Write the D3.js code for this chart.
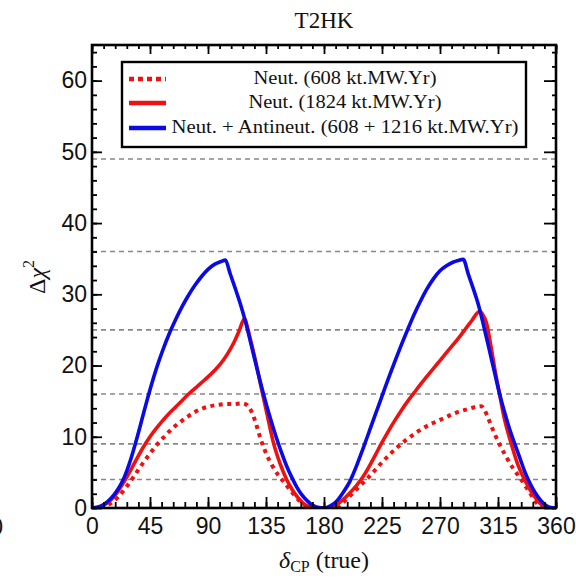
<!DOCTYPE html>
<html>
<head>
<meta charset="utf-8">
<script src="https://d3js.org/d3.v7.min.js"></script>
<style>
  body { margin: 0; background: #fff; }
  svg { display: block; }
</style>
</head>
<body>
<svg width="576" height="578"></svg>
<script>
// delta_CP (true) vs Delta chi^2
const neut608 = [
  [0, 0], [8, 0.1], [14, 0.6], [20, 1.5], [26, 2.8], [32, 4.3], [38, 5.9], [44, 7.4],
  [50, 8.8], [56, 10], [62, 11.1], [68, 12], [74, 12.8], [80, 13.5], [86, 14], [92, 14.3],
  [98, 14.5], [104, 14.6], [110, 14.6], [116, 14.7], [119, 14.6], [122, 14.1], [125, 13],
  [128, 11.4], [131, 9.6], [135, 7.7], [140, 5.9], [145, 4.5], [149, 3.6], [153, 2.7],
  [157, 1.8], [161, 1], [165, 0.4], [169, 0.1], [173, 0], [180, 0],
  [188, 0], [193, 0.5], [198, 1.3], [204, 2.4], [209, 3.3], [214, 4.2], [220, 5.4], [226, 6.6],
  [232, 7.7], [238, 8.7], [244, 9.6], [250, 10.4], [256, 11.1], [262, 11.7], [268, 12.2],
  [274, 12.7], [280, 13.2], [286, 13.6], [292, 13.9], [298, 14.2], [302, 14.3], [304, 13.9],
  [307, 12.8], [311, 11], [316, 9], [321, 7.3], [327, 5.5], [333, 4], [338, 2.6], [342, 1.5],
  [345, 0.7], [348, 0.2], [352, 0], [360, 0]
];
const neut1824 = [
  [0, 0], [5, 0.1], [10, 0.5], [15, 1.2], [20, 2.3], [25, 3.7], [30, 5.3], [35, 7], [40, 8.6],
  [45, 10], [50, 11.2], [55, 12.3], [60, 13.3], [65, 14.2], [70, 15.1], [75, 16], [80, 16.8],
  [85, 17.6], [90, 18.4], [95, 19.3], [100, 20.3], [105, 21.6], [110, 23.2], [114, 24.8],
  [118.4, 26.6], [120, 25.8], [123, 23.6], [126.7, 20.8], [130, 18], [132.4, 16], [136, 13],
  [141, 9], [146, 6.2], [151, 4], [156, 2.4], [161, 1.2], [165, 0.5], [170, 0.1], [175, 0],
  [180, 0],
  [185, 0.05], [190, 0.5], [195, 1.2], [200, 2.1], [205, 3.1], [210, 4.3], [215, 5.8], [220, 7.5],
  [225, 9.2], [230, 10.8], [235, 12.3], [240, 13.7], [245, 15], [250, 16.2], [255, 17.4],
  [260, 18.5], [265, 19.6], [270, 20.7], [275, 21.8], [280, 22.9], [285, 24], [290, 25.2],
  [295, 26.4], [299, 27.4], [301, 27.6], [303, 27.2], [306, 26], [310, 22.2], [313, 19],
  [316.2, 16], [320, 12.5], [325, 9.2], [330, 6.3], [335, 4.2], [340, 2.5], [345, 1.2],
  [349, 0.4], [353, 0], [360, 0]
];
const neutAnti = [
  [0, 0], [5, 0.15], [10, 0.6], [15, 1.4], [20, 2.6], [25, 4.3], [30, 6.8], [35, 9.9], [40, 13.3],
  [45, 16.6], [50, 19.6], [55, 22.2], [60, 24.5], [65, 26.5], [70, 28.3], [75, 29.9], [80, 31.3],
  [85, 32.5], [90, 33.5], [95, 34.2], [100, 34.6], [103.5, 34.8], [107, 33], [111, 30.9],
  [115, 28.7], [119, 26.2], [123, 23.3], [127, 20.3], [131, 17.4], [135, 14.7], [139, 12.2],
  [143, 9.9], [147, 7.8], [151, 5.9], [155, 4.3], [159, 2.9], [163, 1.8], [167, 1], [171, 0.4],
  [175, 0.1], [180, 0],
  [185, 0.3], [190, 1], [195, 2.2], [200, 3.7], [205, 5.8], [210, 8.2], [215, 10.7], [220, 13.2],
  [225, 15.7], [230, 18.2], [235, 20.6], [240, 22.9], [245, 25.1], [250, 27.2], [255, 29.1],
  [260, 30.8], [265, 32.2], [270, 33.3], [275, 34], [280, 34.5], [284, 34.75], [288, 34.9],
  [292, 32.8], [296, 30.7], [300, 28.4], [304, 25.5], [308, 22.4], [312, 19.3], [316, 16.2],
  [320, 13.5], [324, 11.1], [328, 9], [332, 7], [336, 5], [340, 3.4], [344, 2.1], [348, 1.1],
  [352, 0.4], [356, 0.05], [360, 0]
];

const legendLabels = [
  "Neut. (608 kt.MW.Yr)",
  "Neut. (1824 kt.MW.Yr)",
  "Neut. + Antineut. (608 + 1216 kt.MW.Yr)"
];
const xTicks = [0, 45, 90, 135, 180, 225, 270, 315, 360];
const yTicks = [0, 10, 20, 30, 40, 50, 60];
const sigmaLines = [4, 9, 16, 25, 36, 49];

const red = "#ee1111";
const blue = "#0a0ae6";
const series = [
  { data: neut608, color: red, dash: "4,4.5", label: legendLabels[0] },
  { data: neut1824, color: red, dash: null, label: legendLabels[1] },
  { data: neutAnti, color: blue, dash: null, label: legendLabels[2] }
];

const svg = d3.select("svg");
const plotL = 92, plotR = 556, plotT = 45, plotB = 508;

const x = d3.scaleLinear().domain([0, 360]).range([plotL, plotR]);
const y = d3.scaleLinear().domain([0, 65]).range([plotB, plotT]);

svg.append("defs").append("clipPath").attr("id", "plot")
  .append("rect").attr("x", plotL).attr("y", plotT)
  .attr("width", plotR - plotL).attr("height", plotB - plotT);

// dashed reference lines
svg.append("g").selectAll("line").data(sigmaLines).join("line")
  .attr("x1", plotL).attr("x2", plotR)
  .attr("y1", d => y(d)).attr("y2", d => y(d))
  .attr("stroke", "#888").attr("stroke-width", 1.6)
  .attr("stroke-dasharray", "5,4");

const line = d3.line()
  .x(d => x(d[0])).y(d => y(d[1]))
  .curve(d3.curveMonotoneX);

svg.append("g").attr("clip-path", "url(#plot)")
  .selectAll("path").data(series).join("path")
  .attr("d", d => line(d.data))
  .attr("fill", "none")
  .attr("stroke", d => d.color)
  .attr("stroke-width", d => d.dash ? 4 : 3.6)
  .attr("stroke-dasharray", d => d.dash)
  .attr("stroke-linejoin", "round");

// ticks, all pointing inwards
const minorX = d3.range(0, 361, 9);
const minorY = d3.range(0, 65, 2);
const tickFont = "'Liberation Sans', Arial, sans-serif";

function styleAxis(g) {
  g.select(".domain").remove();
  g.selectAll("line").attr("stroke", "#000").attr("stroke-width", 1.8);
  g.selectAll("text").attr("fill", "#111").style("font-family", tickFont).style("font-size", "23px");
}

svg.append("g").attr("transform", `translate(0,${plotB})`)
  .call(d3.axisBottom(x).tickValues(minorX).tickSize(-6).tickFormat("")).call(styleAxis);
svg.append("g").attr("transform", `translate(0,${plotB})`)
  .call(d3.axisBottom(x).tickValues(xTicks).tickSize(-11).tickPadding(10).tickFormat(d3.format("d")))
  .call(styleAxis);
svg.append("g").attr("transform", `translate(0,${plotT})`)
  .call(d3.axisTop(x).tickValues(minorX).tickSize(-4).tickFormat("")).call(styleAxis);
svg.append("g").attr("transform", `translate(0,${plotT})`)
  .call(d3.axisTop(x).tickValues(xTicks).tickSize(-9).tickFormat("")).call(styleAxis);

svg.append("g").attr("transform", `translate(${plotL},0)`)
  .call(d3.axisLeft(y).tickValues(minorY).tickSize(-5).tickFormat("")).call(styleAxis);
svg.append("g").attr("transform", `translate(${plotL},0)`)
  .call(d3.axisLeft(y).tickValues(yTicks).tickSize(-10).tickPadding(5).tickFormat(d3.format("d")))
  .call(styleAxis);
svg.append("g").attr("transform", `translate(${plotR},0)`)
  .call(d3.axisRight(y).tickValues(minorY).tickSize(-4).tickFormat("")).call(styleAxis);
svg.append("g").attr("transform", `translate(${plotR},0)`)
  .call(d3.axisRight(y).tickValues(yTicks).tickSize(-12).tickFormat("")).call(styleAxis);

// frame
svg.append("rect")
  .attr("x", plotL).attr("y", plotT)
  .attr("width", plotR - plotL).attr("height", plotB - plotT)
  .attr("fill", "none").attr("stroke", "#000").attr("stroke-width", 2.6);

// legend
const serif = "'Liberation Serif', 'Times New Roman', serif";
const legend = svg.append("g");
legend.append("rect")
  .attr("x", 122).attr("y", 62).attr("width", 404).attr("height", 85)
  .attr("fill", "#fff").attr("stroke", "#000").attr("stroke-width", 2.4);
const rowY = [79, 103, 128];
const rowW = [183, 193, 347];
const rows = legend.selectAll("g.row").data(series).join("g").attr("class", "row")
  .attr("transform", (d, i) => `translate(0,${rowY[i]})`);
rows.append("line")
  .attr("x1", 129).attr("x2", 166)
  .attr("stroke", d => d.color).attr("stroke-width", 4.5)
  .attr("stroke-dasharray", d => d.dash ? "5,4" : null);
rows.append("text")
  .attr("x", 345).attr("y", 5)
  .attr("text-anchor", "middle")
  .attr("textLength", (d, i) => rowW[i])
  .attr("lengthAdjust", "spacingAndGlyphs")
  .style("font-family", serif).style("font-size", "19px").attr("fill", "#111")
  .text(d => d.label);

// title and axis labels
svg.append("text")
  .attr("x", (plotL + plotR) / 2).attr("y", 28)
  .attr("text-anchor", "middle")
  .style("font-family", serif).style("font-size", "23px").attr("fill", "#111")
  .text("T2HK");

const xl = svg.append("text")
  .attr("x", (plotL + plotR) / 2).attr("y", 568)
  .attr("text-anchor", "middle")
  .style("font-family", serif).style("font-size", "24px").attr("fill", "#111");
xl.append("tspan").style("font-style", "italic").text("δ");
xl.append("tspan").attr("dy", 4).style("font-size", "16px").text("CP");
xl.append("tspan").attr("dy", -4).text(" (true)");

const yl = svg.append("text")
  .attr("transform", "translate(45,277) rotate(-90)")
  .attr("text-anchor", "middle")
  .style("font-family", serif).style("font-size", "24px").attr("fill", "#111");
yl.append("tspan").text("Δ");
yl.append("tspan").style("font-style", "italic").text("χ");
yl.append("tspan").attr("dy", -11).style("font-size", "16px").text("2");

// edge of the neighbouring panel's tick label
svg.append("text")
  .attr("x", 3).attr("y", 535).attr("text-anchor", "end")
  .style("font-family", tickFont).style("font-size", "23px").attr("fill", "#111")
  .text("360");
</script>
</body>
</html>
